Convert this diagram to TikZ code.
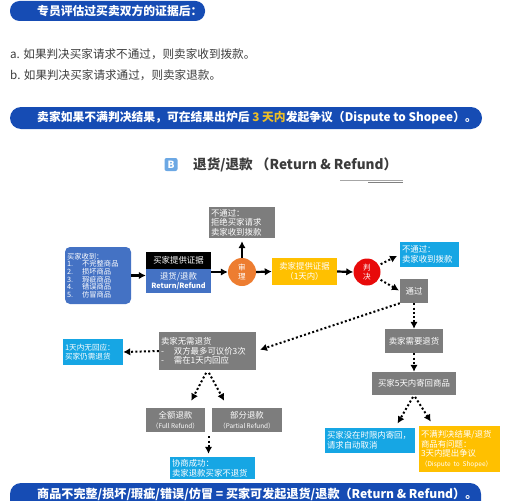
\documentclass[tikz,border=0pt]{standalone}
\usepackage{fontspec}
\setmainfont{Noto Sans CJK SC}
\usepackage{tikz}
\usetikzlibrary{shapes,calc,positioning,arrows.meta}

\definecolor{BannerBlue}{RGB}{22,76,180}
\definecolor{BoxBlue}{RGB}{68,114,196}
\definecolor{SkyBlue}{RGB}{22,166,228}
\definecolor{BoxGray}{RGB}{125,125,125}
\definecolor{BoxYellow}{RGB}{255,192,0}
\definecolor{DotOrange}{RGB}{237,125,49}
\definecolor{DotRed}{RGB}{232,10,10}
\definecolor{TxtGray}{RGB}{60,60,60}
\definecolor{IconBlue}{RGB}{108,168,228}
\definecolor{Gold}{RGB}{236,190,40}

\tikzset{
  flowbox/.style={inner sep=2pt, text=white, font=\fontsize{8.4}{9.6}\selectfont},
  graybox/.style={flowbox, fill=BoxGray},
  bluebox/.style={flowbox, fill=SkyBlue},
  yellowbox/.style={flowbox, fill=BoxYellow},
  roundnode/.style={circle, inner sep=0pt, minimum size=28pt, text=white, align=center, font=\fontsize{7.6}{9}\selectfont},
  flow/.style={line width=2.2pt, ->},
  dots/.style={line width=2pt, dash pattern=on 2pt off 2.3pt, ->},
  banner/.style={text=white, font=\bfseries\fontsize{11.8}{11.8}\selectfont, inner sep=0pt, anchor=west},
}

\begin{document}
\begin{tikzpicture}[x=1pt,y=-1pt,>={Latex[length=7pt,width=7.5pt]}]
\clip (0,0) rectangle (513,500);

% Banners and notes on top
\fill[BannerBlue, rounded corners=9.5pt] (10,1) rectangle (205,21);
\node[banner] (head) at (37,11) {专员评估过买卖双方的证据后：};

\node[anchor=west, inner sep=0pt, text=TxtGray, font=\fontsize{11.6}{11.6}\selectfont] (lineA) at (10,54) {a. 如果判决买家请求不通过，则卖家收到拨款。};
\node[anchor=west, inner sep=0pt, text=TxtGray, font=\fontsize{11.6}{11.6}\selectfont] (lineB) at (10,75) {b. 如果判决买家请求通过，则卖家退款。};

\fill[BannerBlue, rounded corners=11pt] (10,107) rectangle (482,129);
\node[banner] (rule) at (37,118) {卖家如果不满判决结果，可在结果出炉后 \textcolor{Gold}{3 天内}发起争议（Dispute to Shopee）。};

% Title
\node[fill=IconBlue, rounded corners=2pt, minimum size=13pt, inner sep=0pt, text=white, font=\bfseries\fontsize{10}{10}\selectfont] (icon) at (171,164.5) {B};
\node[anchor=west, inner sep=0pt, text=TxtGray, font=\bfseries\fontsize{13.6}{13.6}\selectfont] (title) at (193,165) {退货/退款 （Return \& Refund）};
\draw[gray!70, line width=0.8pt] (340,180) -- (403,180);
\draw[gray, line width=1pt] (368,182) -- (403,182);

% First row
\node[flowbox, fill=BoxBlue, rounded corners=5pt, minimum width=66pt, minimum height=57pt, text width=62pt, align=left, font=\fontsize{7.3}{7.6}\selectfont] (recv) at (98,275.5)
  {买家收到：\\1.\hspace{9pt}不完整商品\\2.\hspace{9pt}损坏商品\\3.\hspace{9pt}瑕疵商品\\4.\hspace{9pt}错误商品\\5.\hspace{9pt}仿冒商品};
\node[flowbox, fill=black, minimum width=65pt, minimum height=17pt] (evid) at (178.5,260.5) {买家提供证据};
\node[flowbox, fill=BoxBlue, minimum width=65pt, minimum height=24pt, align=center] (rr) at (178.5,281) {退货/退款\\{\bfseries\fontsize{7.2}{7.2}\selectfont Return/Refund}};
\node[roundnode, fill=DotOrange] (review) at (242,272) {审\\理};
\node[graybox, minimum width=66pt, minimum height=31pt, text width=62pt, align=left] (reject) at (242,222.5) {不通过：\\拒绝买家请求\\卖家收到拨款};
\node[yellowbox, minimum width=65pt, minimum height=27pt, align=center] (sellerev) at (304.5,271.5) {卖家提供证据\\（1天内）};
\node[roundnode, fill=DotRed, minimum size=27pt] (judge) at (367,272) {判\\决};
\node[bluebox, minimum width=59pt, minimum height=25pt, text width=55pt, align=left] (fail) at (429.5,254.5) {不通过：\\卖家收到拨款};
\node[graybox, minimum width=28pt, minimum height=24pt] (pass) at (414,291) {通过};

% Right branch
\node[graybox, minimum width=58pt, minimum height=24pt] (needret) at (414,341) {卖家需要退货};
\node[graybox, minimum width=84pt, minimum height=23pt] (ship5) at (414,383.5) {买家5天内寄回商品};
\node[bluebox, minimum width=90pt, minimum height=25pt, text width=86pt, align=left] (cancel) at (370,440.5) {买家没在时限内寄回，\\请求自动取消};
\node[yellowbox, minimum width=81pt, minimum height=46pt, text width=77pt, align=left] (dispute) at (459.5,449)
  {不满判决结果/退货\\商品有问题：\\3天内提出争议\\{\fontsize{6.5}{7}\selectfont（Dispute to Shopee）}};

% Left branch
\node[graybox, minimum width=97pt, minimum height=38pt, text width=93pt, align=left] (noret) at (207.5,351)
  {卖家无需退货\\-\hspace{10pt}双方最多可议价3次\\-\hspace{10pt}需在1天内回应};
\node[bluebox, minimum width=60pt, minimum height=26pt, text width=56pt, align=left, font=\fontsize{7.6}{9.4}\selectfont] (noreply) at (93,352) {1天内无回应：\\买家仍需退货};
\node[graybox, minimum width=59pt, minimum height=24pt, align=center] (full) at (175.5,420) {全额退款\\{\fontsize{6.4}{7}\selectfont（Full Refund）}};
\node[graybox, minimum width=70pt, minimum height=24pt, align=center] (partial) at (247,420) {部分退款\\{\fontsize{6.4}{7}\selectfont（Partial Refund）}};
\node[bluebox, minimum width=85pt, minimum height=22pt, text width=81pt, align=left] (success) at (212.5,468) {协商成功：\\卖家退款买家不退货};
\coordinate (split) at ($(full.south east)!0.5!(partial.south west)$);

% Solid arrows
\draw[flow] (recv.east) -- (recv.east -| rr.west);
\draw[flow] (review -| rr.east) -- (review.west);
\draw[flow, shorten >=3pt] (review.north) -- (reject.south);
\draw[flow] (review.east) -- (sellerev.west);
\draw[flow] (sellerev.east) -- (judge.west);

% Dotted arrows
\draw[dots, shorten <=2pt, shorten >=3pt] (judge.30) -- (fail.west);
\draw[dots, shorten <=2pt, shorten >=1pt] (judge.-30) -- (pass.west);
\draw[dots] (pass.south) -- (needret.north);
\draw[dots, shorten >=4pt] (pass.south west) -- (noret.east);
\draw[dots] (needret.south) -- (ship5.north);
\draw[dots, shorten <=2pt, shorten >=5pt] (ship5.south) -- ([xshift=25pt]cancel.north);
\draw[dots, shorten <=2pt, shorten >=5pt] (ship5.south) -- ([xshift=-26pt]dispute.north);
\draw[dots] (noret.west) -- (noreply.east);
\draw[dots, shorten <=3pt, shorten >=8pt] (noret.south) -- ([xshift=12pt]full.north);
\draw[dots, shorten <=3pt, shorten >=8pt] (noret.south) -- ([xshift=-19pt]partial.north);
\draw[dots, shorten <=4pt, shorten >=3pt] (split) -- (split |- success.north);

% Summary banner
\fill[BannerBlue, rounded corners=11pt] (10,483) rectangle (481,512);
\node[banner, font=\bfseries\fontsize{12.1}{12.1}\selectfont] (summary) at (37,494) {商品不完整/损坏/瑕疵/错误/仿冒 = 买家可发起退货/退款（Return \& Refund）。};
\end{tikzpicture}
\end{document}
